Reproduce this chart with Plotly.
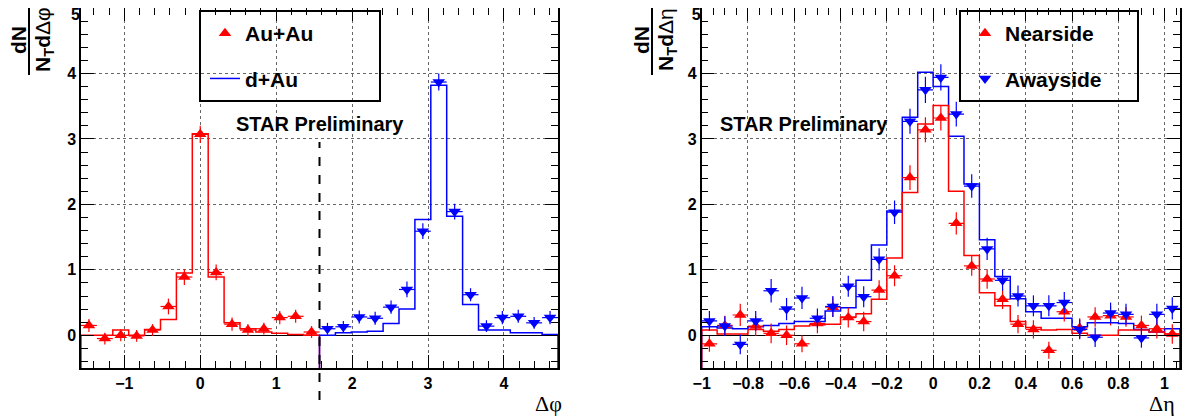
import numpy as np
import plotly.graph_objects as go

# ---------------- data: left panel (delta phi) ----------------
dphi_lo, dphi_hi, n_dphi = -np.pi / 2, 3 * np.pi / 2, 30
dphi_split = np.pi / 2           # near/away boundary (dashed line)

# Au+Au points, near side (bins 0..14) and away side (bins 15..29)
auau_near = [0.15, -0.05, 0.00, -0.01, 0.08, 0.44, 0.89, 3.07, 0.96, 0.17, 0.08, 0.10, 0.27, 0.29, 0.05]
auau_near_err = [0.10, 0.09, 0.09, 0.09, 0.09, 0.12, 0.12, 0.13, 0.12, 0.10, 0.09, 0.09, 0.10, 0.10, 0.09]
auau_away = [0.10, 0.13, 0.28, 0.26, 0.43, 0.70, 1.59, 3.87, 1.89, 0.62, 0.14, 0.27, 0.29, 0.19, 0.27]
auau_away_err = [0.09, 0.09, 0.10, 0.10, 0.10, 0.12, 0.12, 0.13, 0.12, 0.10, 0.09, 0.10, 0.10, 0.09, 0.10]
# d+Au histogram
dau_near = [0.00, 0.00, 0.08, 0.00, 0.09, 0.24, 0.95, 3.08, 0.89, 0.19, 0.10, 0.05, 0.03, 0.01, 0.00]
dau_away = [0.00, 0.04, 0.05, 0.06, 0.18, 0.40, 1.77, 3.82, 1.82, 0.47, 0.08, 0.08, 0.04, 0.04, 0.01]

# ---------------- data: right panel (delta eta) ----------------
deta_lo, deta_w, n_deta = -1.0, 1.0 / 15, 31
near_pts = [-0.13, 0.15, 0.31, 0.14, 0.03, 0.00, -0.13, 0.18, 0.43, 0.27, 0.21, 0.69, 0.91, 2.41, 3.14, 3.32,
            1.71, 1.06, 0.86, 0.55, 0.17, 0.09, -0.23, 0.36, 0.11, 0.28, 0.30, 0.28, 0.15, 0.10, 0.02]
near_err = [0.12, 0.15, 0.17, 0.15, 0.15, 0.15, 0.13, 0.15, 0.15, 0.15, 0.15, 0.15, 0.16, 0.19, 0.19, 0.19,
            0.17, 0.15, 0.15, 0.15, 0.14, 0.14, 0.13, 0.15, 0.15, 0.15, 0.15, 0.15, 0.15, 0.15, 0.15]
away_pts = [0.22, 0.14, -0.14, 0.22, 0.68, 0.40, 0.57, 0.26, 0.44, 0.75, 0.59, 1.16, 1.88, 3.27, 3.75, 3.94,
            3.38, 2.28, 1.32, 0.84, 0.60, 0.45, 0.45, 0.50, 0.09, -0.03, 0.34, 0.32, -0.04, 0.32, 0.41]
away_err = [0.15, 0.15, 0.15, 0.15, 0.18, 0.17, 0.17, 0.15, 0.16, 0.16, 0.16, 0.17, 0.18, 0.19, 0.20, 0.20,
            0.19, 0.18, 0.17, 0.16, 0.16, 0.16, 0.16, 0.16, 0.15, 0.15, 0.16, 0.16, 0.15, 0.16, 0.17]
near_hist = [0.08, 0.02, 0.02, 0.09, 0.06, 0.09, 0.14, 0.16, 0.17, 0.28, 0.33, 0.55, 1.18, 2.18, 3.23, 3.51,
             2.20, 1.22, 0.65, 0.45, 0.21, 0.12, 0.08, 0.09, 0.03, 0.00, 0.00, 0.08, 0.08, 0.05, 0.02]
away_hist = [0.13, 0.11, 0.10, 0.13, 0.15, 0.18, 0.21, 0.21, 0.37, 0.42, 0.84, 1.38, 1.90, 3.33, 4.02, 3.80,
             3.04, 2.31, 1.46, 0.90, 0.56, 0.36, 0.26, 0.26, 0.13, 0.19, 0.19, 0.18, 0.09, 0.05, 0.10]

y_lo, y_hi = -0.5, 5.0
y_ticks = [0, 1, 2, 3, 4]     # labelled on the main axis
y_top_tick = [5]              # labelled on an overlay axis, nudged inside the page

RED = "#ff0000"
BLUE = "#0000ff"
FONT = "Liberation Sans"

# bin geometry
dphi_w = (dphi_hi - dphi_lo) / n_dphi
dphi_edges = dphi_lo + dphi_w * np.arange(n_dphi + 1)
dphi_cent = 0.5 * (dphi_edges[:-1] + dphi_edges[1:])
deta_edges = deta_lo + deta_w * np.arange(n_deta + 1)
deta_cent = 0.5 * (deta_edges[:-1] + deta_edges[1:])
deta_hi = deta_edges[-1]
nh = len(auau_near)

# page geometry: the browser adds an 8 px body margin around the figure
OFF = 8
W, H = 1176, 411


def px(x):
    return (x - OFF) / W


def py(y):
    return 1 - (y - OFF) / H


def step_xy(edges, vals, base):
    xs = [edges[0]] + list(edges[:len(vals)]) + [edges[len(vals)], edges[len(vals)]]
    ys = [base] + list(vals) + [vals[-1], base]
    return xs, ys


fig = go.Figure()

# ---- left panel ----
xs, ys = step_xy(dphi_edges[:nh + 1], dau_near, y_lo)
fig.add_trace(go.Scatter(x=xs, y=ys, mode="lines", line=dict(color=RED, width=1.5, shape="hv"),
                         showlegend=False, hoverinfo="skip", xaxis="x", yaxis="y"))
xs, ys = step_xy(dphi_edges[nh:], dau_away, y_lo)
fig.add_trace(go.Scatter(x=xs, y=ys, mode="lines", line=dict(color=BLUE, width=1.5, shape="hv"),
                         name="d+Au", legend="legend", legendgroup="b", legendrank=2, xaxis="x", yaxis="y"))
fig.add_trace(go.Scatter(x=dphi_cent[:nh], y=auau_near, mode="markers",
                         marker=dict(symbol="triangle-up", size=11, color=RED),
                         error_y=dict(type="data", array=auau_near_err, color=RED, thickness=1.2, width=0),
                         error_x=dict(type="constant", value=dphi_w / 2, color=RED, thickness=1.2, width=0),
                         name="Au+Au", legend="legend", legendgroup="a", legendrank=1, xaxis="x", yaxis="y"))
fig.add_trace(go.Scatter(x=dphi_cent[nh:], y=auau_away, mode="markers",
                         marker=dict(symbol="triangle-down", size=11, color=BLUE),
                         error_y=dict(type="data", array=auau_away_err, color=BLUE, thickness=1.2, width=0),
                         error_x=dict(type="constant", value=dphi_w / 2, color=BLUE, thickness=1.2, width=0),
                         showlegend=False, xaxis="x", yaxis="y"))

# ---- right panel ----
xs, ys = step_xy(deta_edges, away_hist, y_lo)
fig.add_trace(go.Scatter(x=xs, y=ys, mode="lines", line=dict(color=BLUE, width=1.5, shape="hv"),
                         showlegend=False, hoverinfo="skip", xaxis="x2", yaxis="y2"))
xs, ys = step_xy(deta_edges, near_hist, y_lo)
fig.add_trace(go.Scatter(x=xs, y=ys, mode="lines", line=dict(color=RED, width=1.5, shape="hv"),
                         showlegend=False, hoverinfo="skip", xaxis="x2", yaxis="y2"))
fig.add_trace(go.Scatter(x=deta_cent, y=near_pts, mode="markers",
                         marker=dict(symbol="triangle-up", size=11, color=RED),
                         error_y=dict(type="data", array=near_err, color=RED, thickness=1.2, width=0),
                         error_x=dict(type="constant", value=deta_w / 2, color=RED, thickness=1.2, width=0),
                         name="Nearside", legend="legend2", legendgroup="c", legendrank=1, xaxis="x2", yaxis="y2"))
fig.add_trace(go.Scatter(x=deta_cent, y=away_pts, mode="markers",
                         marker=dict(symbol="triangle-down", size=11, color=BLUE),
                         error_y=dict(type="data", array=away_err, color=BLUE, thickness=1.2, width=0),
                         error_x=dict(type="constant", value=deta_w / 2, color=BLUE, thickness=1.2, width=0),
                         name="Awayside", legend="legend2", legendgroup="d", legendrank=2, xaxis="x2", yaxis="y2"))

# empty traces so that the overlay label axes are created
fig.add_trace(go.Scatter(x=[None], y=[None], mode="markers", showlegend=False, hoverinfo="skip",
                         xaxis="x", yaxis="y3"))
fig.add_trace(go.Scatter(x=[None], y=[None], mode="markers", showlegend=False, hoverinfo="skip",
                         xaxis="x2", yaxis="y4"))

L_dom = [px(81), px(558)]
R_dom = [px(701.7), px(1180)]
Y_dom = [py(368), 1.0]

tickfont = dict(family=FONT, size=16, color="black", weight="bold")
common = dict(showline=True, linecolor="black", linewidth=1.5, mirror="ticks",
              ticks="inside", ticklen=13, tickwidth=1.2, tickcolor="black",
              showgrid=True, gridcolor="#666666", griddash="dot", gridwidth=1,
              tickfont=tickfont, zeroline=False, automargin=False, ticklabeloverflow="allow")
minor_y = dict(dtick=0.2, tick0=0, ticks="inside", ticklen=7, tickcolor="black", showgrid=False)
yzero = dict(zeroline=True, zerolinecolor="black", zerolinewidth=1.2)
yc = {**common, **yzero}
y_main_ticks = dict(tickmode="array", tickvals=y_ticks + y_top_tick,
                    ticktext=[str(v) for v in y_ticks] + [""])
y_overlay = dict(range=[y_lo, y_hi + 1e-3], tickmode="array", tickvals=y_top_tick,
                 ticktext=[str(v) for v in y_top_tick], ticks="", showline=False, showgrid=False,
                 zeroline=False, tickfont=tickfont, ticklabelshift=6, automargin=False,
                 ticklabeloverflow="allow", side="left")
leg_font = dict(family=FONT, size=21, color="black", weight="bold")

fig.update_layout(
    width=W, height=H, margin=dict(l=0, r=0, t=0, b=0, pad=0, autoexpand=False),
    paper_bgcolor="white", plot_bgcolor="white",
    xaxis=dict(domain=L_dom, range=[dphi_lo, dphi_hi], anchor="y", dtick=1, tick0=0,
               minor=dict(dtick=0.2, tick0=0, ticks="inside", ticklen=7, tickcolor="black", showgrid=False),
               **common),
    yaxis=dict(domain=Y_dom, range=[y_lo, y_hi + 1e-3], anchor="x", minor=minor_y, **y_main_ticks, **yc),
    yaxis3=dict(overlaying="y", anchor="x", **y_overlay),
    xaxis2=dict(domain=R_dom, range=[deta_lo, deta_hi], anchor="y2", dtick=0.2, tick0=0,
                minor=dict(dtick=0.05, tick0=0, ticks="inside", ticklen=7, tickcolor="black", showgrid=False),
                **common),
    yaxis2=dict(domain=Y_dom, range=[y_lo, y_hi + 1e-3], anchor="x2", minor=minor_y, **y_main_ticks, **yc),
    yaxis4=dict(overlaying="y2", anchor="x2", **y_overlay),
    legend=dict(x=px(205), y=py(13), xanchor="left", yanchor="top", bgcolor="rgba(0,0,0,0)",
                borderwidth=0, font=leg_font, tracegroupgap=15, traceorder="grouped", itemwidth=30),
    legend2=dict(x=px(965), y=py(13), xanchor="left", yanchor="top", bgcolor="rgba(0,0,0,0)",
                 borderwidth=0, font=leg_font, tracegroupgap=15, traceorder="grouped", itemwidth=30),
)

# legend frames
for x0, x1 in [(200, 380), (960, 1138)]:
    fig.add_shape(type="rect", xref="paper", yref="paper", x0=px(x0), x1=px(x1),
                  y0=py(101), y1=py(11), line=dict(color="black", width=2), layer="above")

# near/away split line
fig.add_shape(type="line", xref="x", yref="paper", x0=dphi_split, x1=dphi_split,
              y0=py(400), y1=py(142), line=dict(color="black", width=2, dash="dash"))

ann_font = dict(family=FONT, size=20, color="black", weight="bold")
for xc in (320, 804):
    fig.add_annotation(x=px(xc), y=py(124), xref="paper", yref="paper", text="STAR Preliminary",
                       xanchor="center", yanchor="middle", showarrow=False, font=ann_font)

# y-axis titles as rotated fractions
for xd, xb, xn, sym in [(18, 29, 44, "Δφ"), (641, 652, 667, "Δη")]:
    fig.add_annotation(x=px(xd), y=py(40), xref="paper", yref="paper", text="<b>dN</b>",
                       xanchor="center", yanchor="middle",
                       textangle=-90, showarrow=False, font=dict(family=FONT, size=21, color="black"))
    fig.add_shape(type="line", xref="paper", yref="paper", x0=px(xb), x1=px(xb),
                  y0=py(75), y1=1.0, line=dict(color="black", width=2))
    fig.add_annotation(x=px(xn), y=py(40), xref="paper", yref="paper",
                       text="<b>N</b><sub><b>T</b></sub><b>d</b>" + sym,
                       xanchor="center", yanchor="middle",
                       textangle=-90, showarrow=False, font=dict(family=FONT, size=21, color="black"))

# x-axis titles
for xc, sym in [(548, "Δφ"), (1162, "Δη")]:
    fig.add_annotation(x=px(xc), y=py(403), xref="paper", yref="paper", text=sym, showarrow=False,
                       xanchor="center", yanchor="middle",
                       font=dict(family="Liberation Serif", size=22, color="black"))

fig.write_html("out.html")
